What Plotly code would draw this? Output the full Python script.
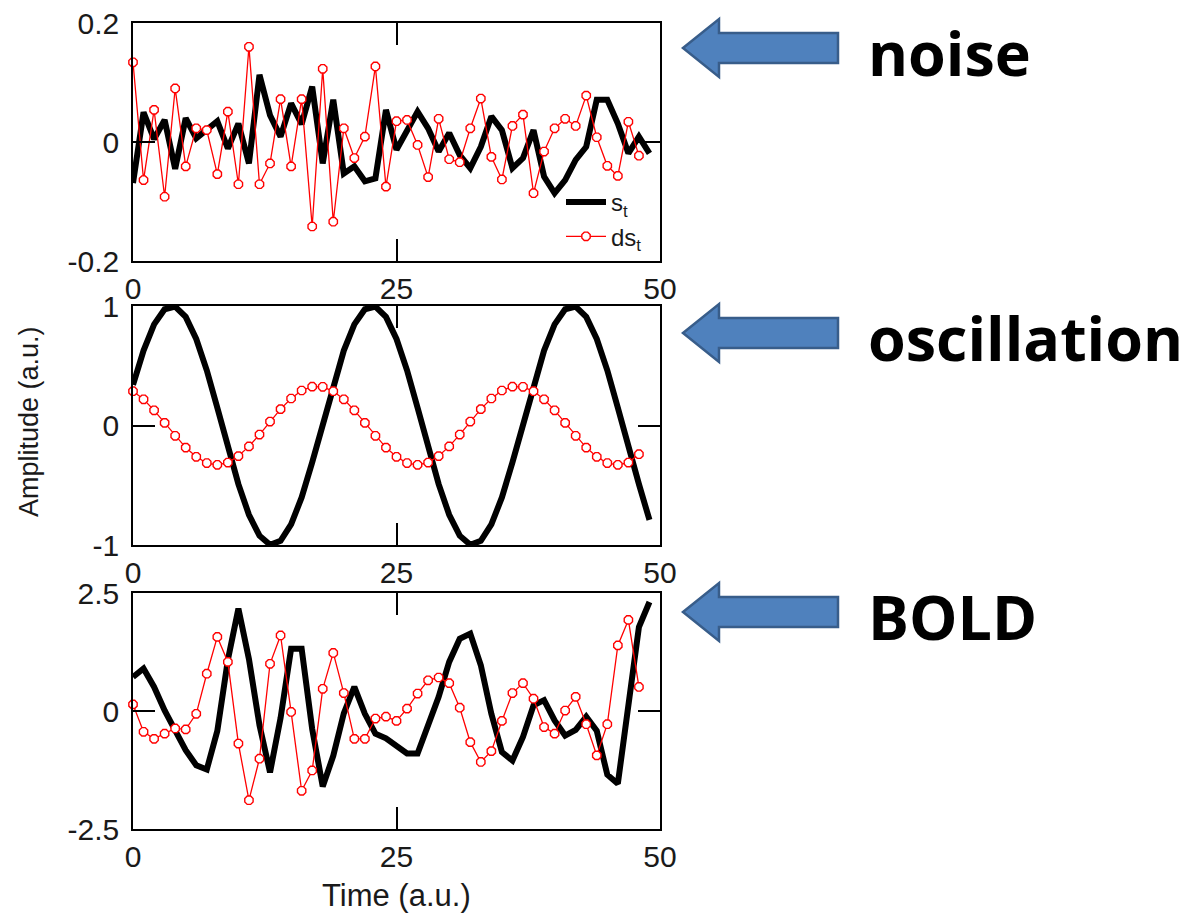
import plotly.graph_objects as go

# ---------------- data ----------------
t_s = list(range(50))
t_ds = list(range(49))

noise_s = [-0.069, 0.050, 0.005, 0.037, -0.045, 0.040, 0.006, 0.022, 0.035, -0.011,
           0.031, -0.036, 0.113, 0.045, 0.009, 0.065, 0.030, 0.093, -0.036, 0.071,
           -0.053, -0.041, -0.066, -0.061, 0.054, -0.013, 0.020, 0.051, 0.023, -0.016,
           0.015, -0.022, -0.044, -0.008, 0.043, 0.020, -0.044, -0.027, 0.020, -0.058,
           -0.086, -0.064, -0.030, -0.008, 0.071, 0.071, 0.031, -0.019, 0.009, -0.019]
noise_ds = [0.134, -0.064, 0.054, -0.092, 0.090, -0.041, 0.023, 0.020, -0.054, 0.051,
            -0.071, 0.160, -0.071, -0.036, 0.072, -0.041, 0.072, -0.142, 0.123, -0.134,
            0.023, -0.027, 0.009, 0.127, -0.075, 0.035, 0.037, -0.005, -0.059, 0.039,
            -0.029, -0.034, 0.023, 0.073, -0.025, -0.063, 0.027, 0.046, -0.086, -0.016,
            0.023, 0.039, 0.027, 0.078, 0.008, -0.040, -0.057, 0.034, -0.023]

osc_s = [0.340, 0.627, 0.846, 0.973, 0.995, 0.909, 0.724, 0.462, 0.148, -0.181,
         -0.491, -0.747, -0.922, -0.998, -0.965, -0.828, -0.602, -0.309, 0.016, 0.340,
         0.627, 0.846, 0.973, 0.995, 0.909, 0.724, 0.462, 0.148, -0.181, -0.491,
         -0.747, -0.922, -0.998, -0.965, -0.828, -0.602, -0.309, 0.016, 0.340, 0.627,
         0.846, 0.973, 0.995, 0.909, 0.724, 0.462, 0.148, -0.181, -0.491, -0.790]
osc_ds = [0.287, 0.219, 0.127, 0.022, -0.086, -0.185, -0.262, -0.314, -0.329, -0.310,
          -0.256, -0.175, -0.076, 0.033, 0.137, 0.226, 0.293, 0.325, 0.324, 0.287,
          0.219, 0.127, 0.022, -0.086, -0.185, -0.262, -0.314, -0.329, -0.310, -0.256,
          -0.175, -0.076, 0.033, 0.137, 0.226, 0.293, 0.325, 0.324, 0.287, 0.219,
          0.127, 0.022, -0.086, -0.185, -0.262, -0.314, -0.329, -0.310, -0.240]

bold_s = [0.72, 0.90, 0.51, 0.01, -0.41, -0.83, -1.15, -1.24, -0.42, 1.08,
          2.17, 1.10, -0.30, -1.30, -0.15, 1.32, 1.32, -0.38, -1.60, -0.95,
          -0.05, 0.51, -0.06, -0.48, -0.58, -0.75, -0.90, -0.90, -0.34, 0.30,
          1.04, 1.53, 1.64, 0.97, -0.06, -0.87, -1.05, -0.55, 0.12, 0.23,
          -0.20, -0.52, -0.40, -0.12, -0.42, -1.35, -1.54, 0.23, 1.78, 2.31]
bold_ds = [0.14, -0.44, -0.59, -0.48, -0.37, -0.39, -0.06, 0.79, 1.57, 1.04,
           -0.69, -1.89, -1.01, 1.00, 1.60, -0.02, -1.69, -1.26, 0.47, 1.23,
           0.38, -0.59, -0.59, -0.16, -0.12, -0.21, 0.05, 0.37, 0.65, 0.71,
           0.59, 0.07, -0.66, -1.08, -0.85, -0.21, 0.38, 0.59, 0.26, -0.34,
           -0.48, 0.01, 0.30, -0.28, -0.94, -0.28, 1.39, 1.93, 0.51]

x_ticks = [0, 25, 50]
x_ticktext = ["0", "25", "50"]
y_ranges = [[-0.2, 0.2], [-1, 1], [-2.5, 2.5]]
y_ticks = [[-0.2, 0, 0.2], [-1, 0, 1], [-2.5, 0, 2.5]]
y_ticktext = [["-0.2", "0", "0.2"], ["-1", "0", "1"], ["-2.5", "0", "2.5"]]
panel_labels = ["noise", "oscillation", "BOLD"]
series_names = ["s<sub>t</sub>", "ds<sub>t</sub>"]

# ---------------- layout geometry ----------------
# the page body has an 8px margin, so the figure is shrunk by 8px and
# page coordinates are shifted by 8px
OFF = 8
W, H = 1188 - OFF, 918 - OFF
def px(x):
    return (x - OFF) / W
def py(y):
    return 1 - (y - OFF) / H

x_dom = [px(133), px(660)]
y_doms = [[py(261), py(23)], [py(545), py(306)], [py(829), py(593)]]

TXT = "#1a1a1a"
FONT = "Liberation Sans, Arial, Helvetica, sans-serif"

fig = go.Figure()
panels = [(noise_s, noise_ds), (osc_s, osc_ds), (bold_s, bold_ds)]
for i, (s, ds) in enumerate(panels):
    xa = "x" if i == 0 else f"x{i+1}"
    ya = "y" if i == 0 else f"y{i+1}"
    fig.add_trace(go.Scatter(x=t_s, y=s, mode="lines", name=series_names[0],
                             line=dict(color="black", width=6),
                             xaxis=xa, yaxis=ya, showlegend=(i == 0)))
    fig.add_trace(go.Scatter(x=t_ds, y=ds, mode="lines+markers", name=series_names[1],
                             line=dict(color="#ff0000", width=1.3),
                             marker=dict(symbol="octagon", size=9, color="white",
                                         line=dict(color="#ff0000", width=1.4)),
                             cliponaxis=False,
                             xaxis=xa, yaxis=ya, showlegend=(i == 0)))

axis_common = dict(showline=True, linecolor="black", linewidth=1.5, mirror="ticks",
                   ticks="inside", ticklen=22, tickwidth=1.5, tickcolor="black",
                   showgrid=False, zeroline=False, automargin=False,
                   ticklabeloverflow="allow",
                   tickfont=dict(family=FONT, size=30, color=TXT))

layout = dict(width=W, height=H, margin=dict(l=0, r=0, t=0, b=0, autoexpand=False),
              paper_bgcolor="white", plot_bgcolor="white",
              legend=dict(x=px(561), y=py(180), xanchor="left", yanchor="top",
                          bgcolor="rgba(0,0,0,0)", font=dict(family=FONT, size=24, color=TXT),
                          itemwidth=40, tracegroupgap=0))
for i in range(3):
    xk = "xaxis" if i == 0 else f"xaxis{i+1}"
    yk = "yaxis" if i == 0 else f"yaxis{i+1}"
    anchor_y = "y" if i == 0 else f"y{i+1}"
    anchor_x = "x" if i == 0 else f"x{i+1}"
    layout[xk] = dict(axis_common, domain=x_dom, range=[0, 50], anchor=anchor_y,
                      tickvals=x_ticks, ticktext=x_ticktext, ticklabelstandoff=0)
    layout[yk] = dict(axis_common, domain=y_doms[i], range=y_ranges[i], anchor=anchor_x,
                      tickvals=y_ticks[i], ticktext=y_ticktext[i], ticklabelstandoff=6)
fig.update_layout(**layout)

# axis titles
fig.add_annotation(text="Amplitude (a.u.)", x=px(29), y=py(422), xref="paper", yref="paper",
                   textangle=-90, showarrow=False, xanchor="center", yanchor="middle",
                   font=dict(family=FONT, size=27, color=TXT))
fig.add_annotation(text="Time (a.u.)", x=px(396), y=py(895), xref="paper", yref="paper",
                   showarrow=False, xanchor="center", yanchor="middle",
                   font=dict(family=FONT, size=31, color=TXT))

# block arrows + labels
arrow_cy = [48, 333, 612]
for cy, lab in zip(arrow_cy, panel_labels):
    tip, hx, tail = 683, 719, 838
    hh, sh = 29, 15
    pts = [(tip, cy), (hx, cy - hh), (hx, cy - sh), (tail, cy - sh), (tail, cy + sh),
           (hx, cy + sh), (hx, cy + hh)]
    path = "M " + " L ".join(f"{px(a):.5f},{py(b):.5f}" for a, b in pts) + " Z"
    fig.add_shape(type="path", path=path, xref="paper", yref="paper",
                  fillcolor="#4F81BD", line=dict(color="#385D8A", width=2.5))
    fig.add_annotation(text=f"<b>{lab}</b>", x=px(866), y=py(cy + 4), xref="paper", yref="paper",
                       showarrow=False, xanchor="left", yanchor="middle",
                       font=dict(family="Open Sans, Noto Sans, sans-serif", size=61, color="black"))

fig.write_html("out.html")
